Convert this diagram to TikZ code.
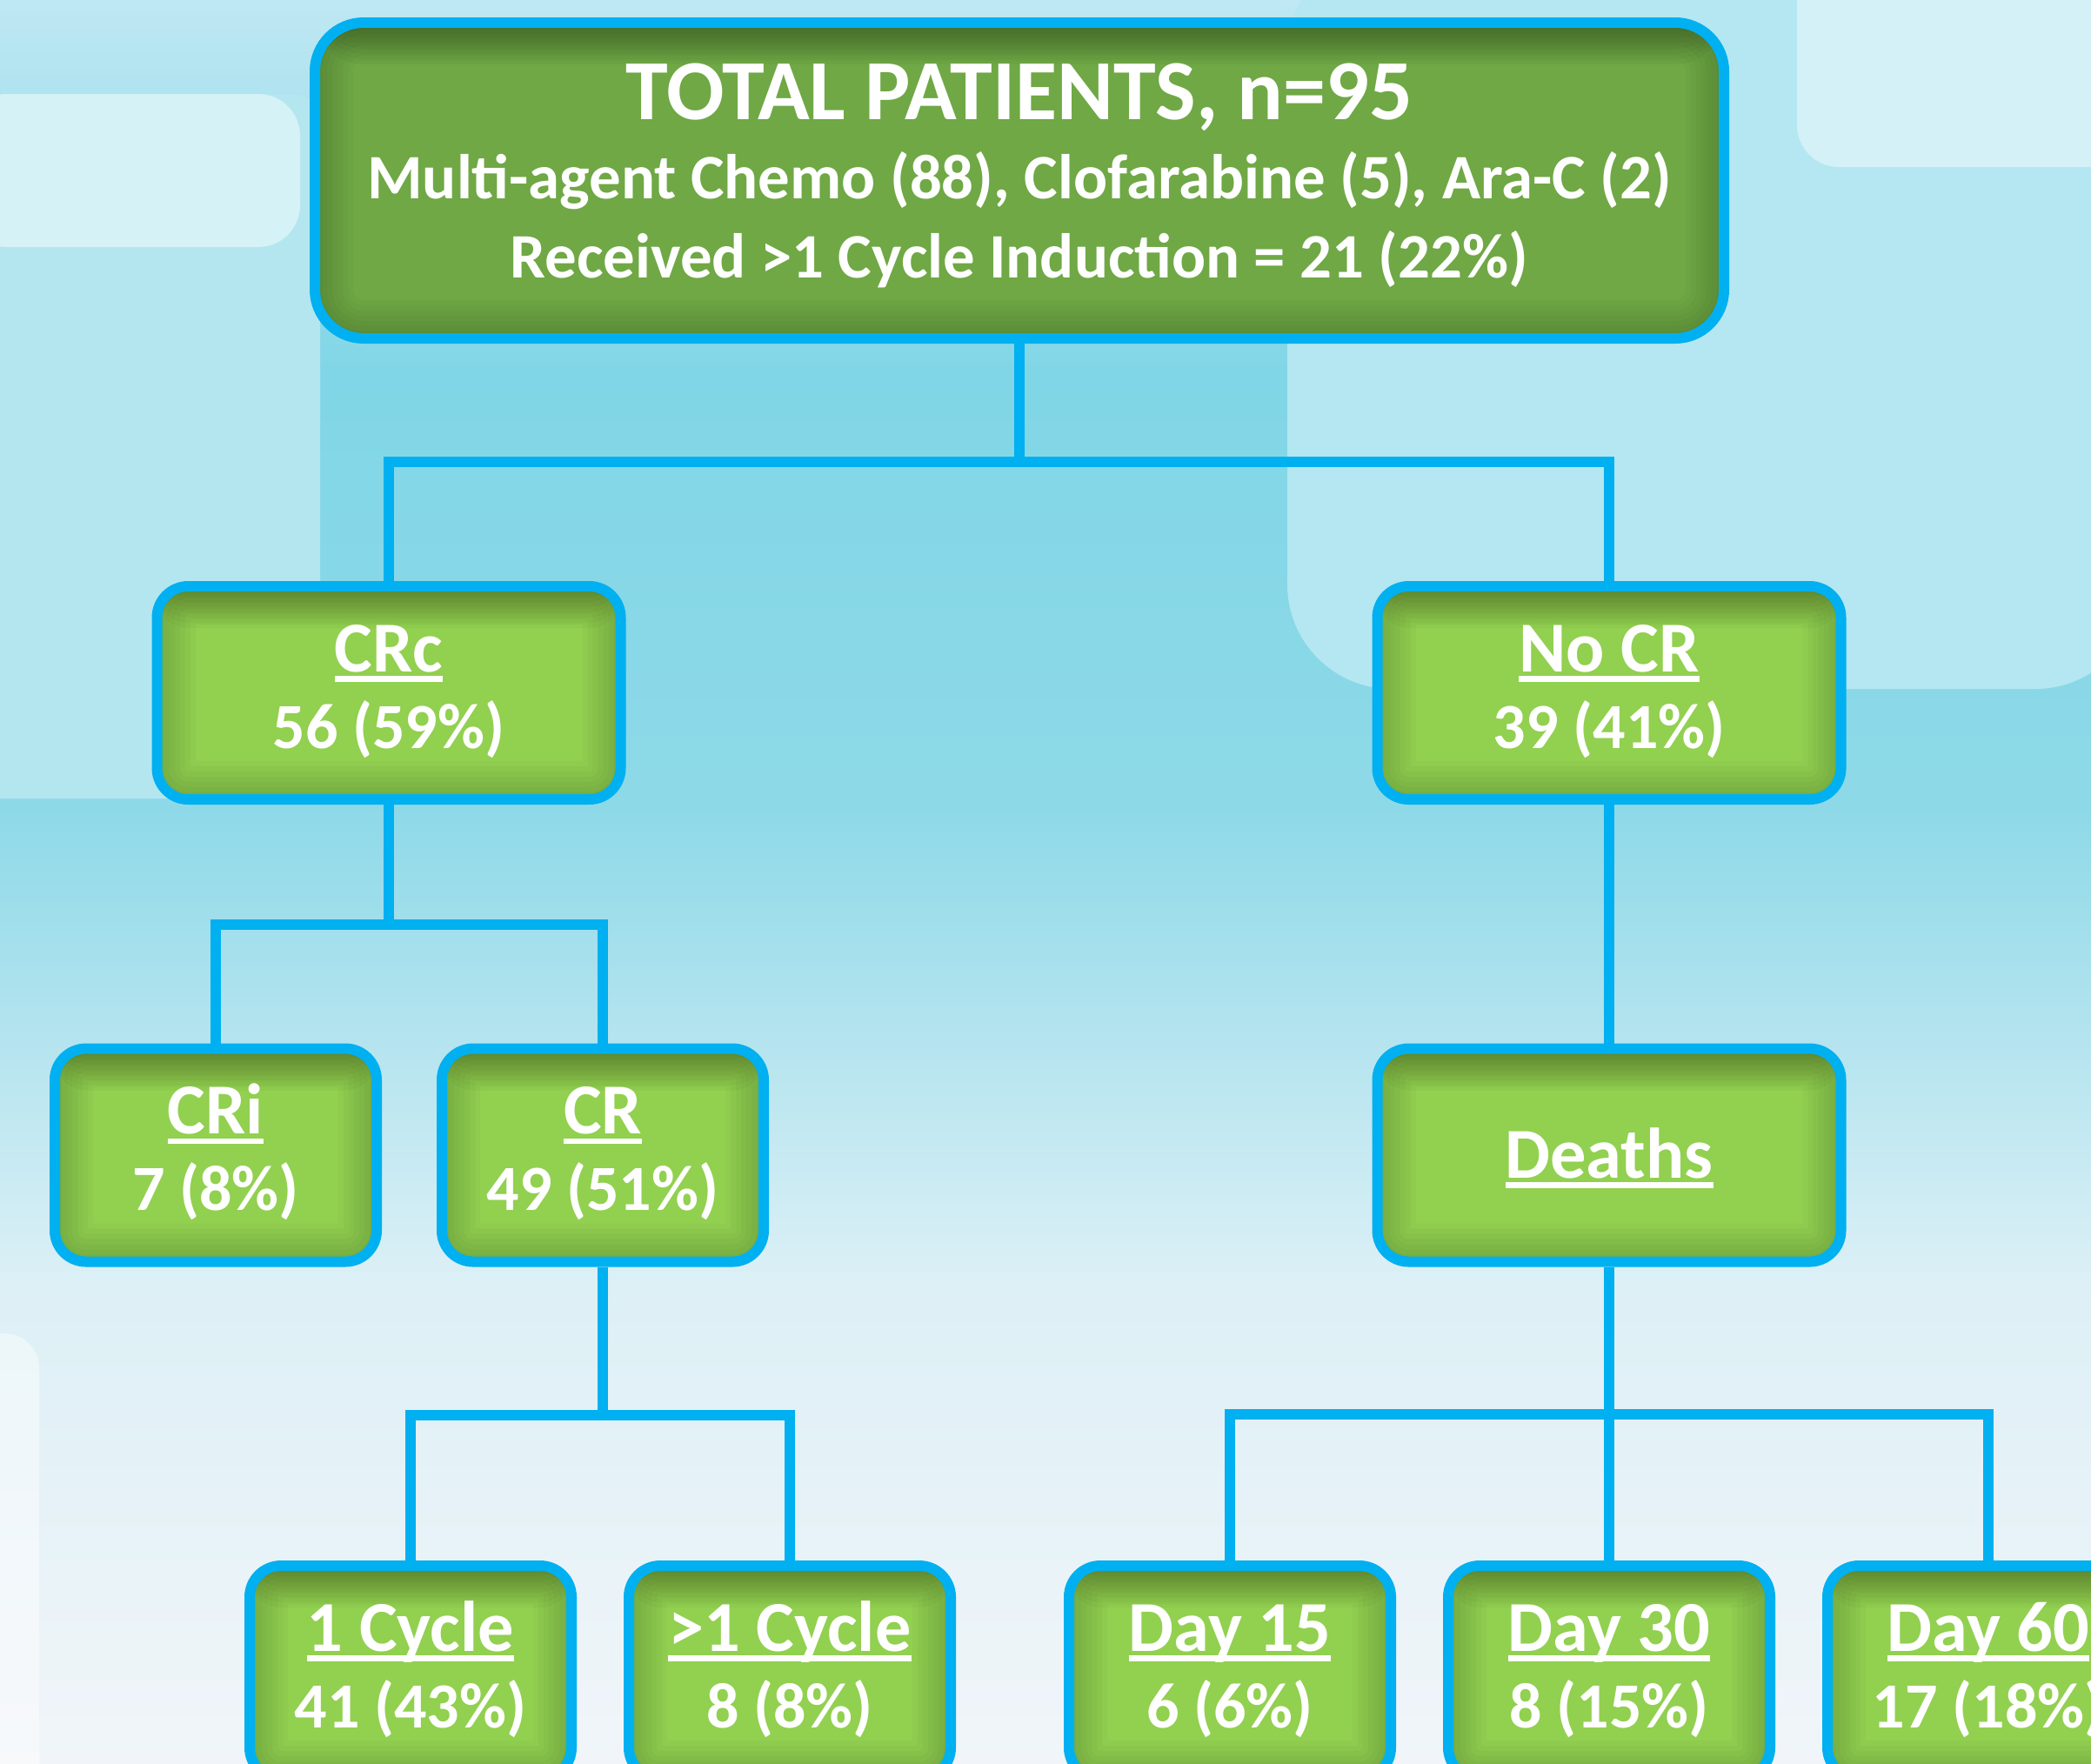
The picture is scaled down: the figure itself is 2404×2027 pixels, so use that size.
\documentclass[tikz,border=0pt]{standalone}
\usepackage{fontspec}
\setmainfont{Carlito}
\definecolor{bdr}{HTML}{00B0F0}
\definecolor{gA}{HTML}{6FA845}
\definecolor{gB}{HTML}{92D050}
\definecolor{bg0}{HTML}{BFE8F3}
\definecolor{bg1}{HTML}{80D6E6}
\definecolor{bg2}{HTML}{8ED9E8}
\definecolor{bg3}{HTML}{DDF0F6}
\definecolor{bg4}{HTML}{F1F5F9}
\definecolor{lp}{HTML}{B4E6F0}
\definecolor{lpt}{HTML}{D5F2F7}
\definecolor{rp}{HTML}{B4E7F1}
\definecolor{rpt}{HTML}{D3F1F6}
\newsavebox\ulbox
\newcommand\ulx[1]{\sbox\ulbox{#1}\rlap{\rule[-2.9pt]{\wd\ulbox}{1.6pt}}\usebox\ulbox}
\newcommand\hd[1]{{\fontsize{20.6pt}{22pt}\selectfont\rule{0pt}{16pt}\ulx{#1}}}
\newcommand\hdone[1]{{\fontsize{20.6pt}{22pt}\selectfont\rule[-3pt]{0pt}{19pt}\ulx{#1}}}
\newcommand\nm[1]{{\rule[-6.25pt]{0pt}{6.25pt}#1}}
\newcommand\innerglow[1]{%
  \foreach \h in {1.5,3,4.5,6,7.5,9,10.5,12}{%
    \fill[black, opacity=0.028] ([yshift=2pt]path picture bounding box.north west) rectangle ([yshift=-\h pt]path picture bounding box.north east);}%
  \foreach \w in {22,19,16,13,10,7,4}{%
    \draw[black, line width=\w pt, opacity=0.025, rounded corners=#1] (path picture bounding box.south west) rectangle (path picture bounding box.north east);}%
}
\tikzset{
  conn/.style={draw=bdr, line width=3pt},
  gbox/.style 2 args={draw=bdr, line width=3pt, fill=#1, rounded corners=#2, inner sep=0pt,
    text=white, align=center, path picture={\innerglow{#2}}},
  sbox/.style={gbox={gB}{9pt}, minimum width=92.5pt, minimum height=61.25pt,
    font=\bfseries\fontsize{18.5pt}{22pt}\selectfont},
  wbox/.style={sbox, minimum width=133.25pt},
  topbox/.style={gbox={gA}{14pt}, minimum width=405pt, minimum height=90.75pt,
    font=\bfseries\fontsize{18.2pt}{22.75pt}\selectfont},
}
\begin{document}
\begin{tikzpicture}[x=0.25pt,y=-0.25pt]
\clip (0,0) rectangle (2404,2027);
% background
\shade[top color=bg0, bottom color=bg1] (0,-1) rectangle (2404,430);
\shade[top color=bg1, bottom color=bg2] (0,429) rectangle (2404,930);
\shade[top color=bg2, bottom color=bg3] (0,929) rectangle (2404,1480);
\shade[top color=bg3, bottom color=bg4] (0,1479) rectangle (2404,2028);
\fill[lp, rounded corners=8pt] (-40,108) rectangle (368,918);
\fill[lpt, rounded corners=12pt] (-40,108) rectangle (345,284);
\fill[rp, rounded corners=30pt] (1480,-60) rectangle (2460,792);
\fill[rpt, rounded corners=12pt] (2066,-60) rectangle (2460,192);
\fill[white, opacity=0.45, rounded corners=10pt] (-40,1533) rectangle (45,2100);

% boxes
\node[topbox] (top) at (1172,207.5) {{\fontsize{24.6pt}{22.75pt}\selectfont\rule{0pt}{22pt}TOTAL PATIENTS, n=95}\\
  Multi-agent Chemo (88), Clofarabine (5), Ara-C (2)\\
  \rule[-11.5pt]{0pt}{11.5pt}Received >1 Cycle Induction = 21 (22\%)};
\node[wbox] (crc) at (447,796.5) {\hd{CRc}\\\nm{56 (59\%)}};
\node[wbox] (nocr) at (1850,796.5) {\hd{No CR}\\\nm{39 (41\%)}};
\node[sbox] (cri) at (248,1328) {\hd{CRi}\\\nm{7 (8\%)}};
\node[sbox] (cr) at (693,1328) {\hd{CR}\\\nm{49 (51\%)}};
\node[wbox] (deaths) at (1850,1328) {\hdone{Deaths}};
\node[sbox] (c1) at (472,1922.5) {\hd{1 Cycle}\\\nm{41 (43\%)}};
\node[sbox] (c2) at (908,1922.5) {\hd{>1 Cycle}\\\nm{8 (8\%)}};
\node[sbox] (d15) at (1414,1922.5) {\hd{Day 15}\\\nm{6 (6\%)}};
\node[sbox] (d30) at (1850,1922.5) {\hd{Day 30}\\\nm{8 (15\%)}};
\node[sbox] (d60) at (2286,1922.5) {\hd{Day 60}\\\nm{17 (18\%)}};

% junctions
\coordinate (j1) at (1172,531);
\coordinate (j2) at (447,1063);
\coordinate (j3) at (693,1627);
\coordinate (j4) at (1850,1626);

% connectors
\draw[conn] (top.south) -- (j1);
\draw[conn] (crc.north) |- (j1) -| (nocr.north);
\draw[conn] (crc.south) -- (j2);
\draw[conn] (cri.north) |- (j2) -| (cr.north);
\draw[conn] (nocr.south) -- (deaths.north);
\draw[conn] (cr.south) -- (j3);
\draw[conn] (c1.north) |- (j3) -| (c2.north);
\draw[conn] (deaths.south) -- (d30.north);
\draw[conn] (d15.north) |- (j4) -| (d60.north);
\end{tikzpicture}
\end{document}
